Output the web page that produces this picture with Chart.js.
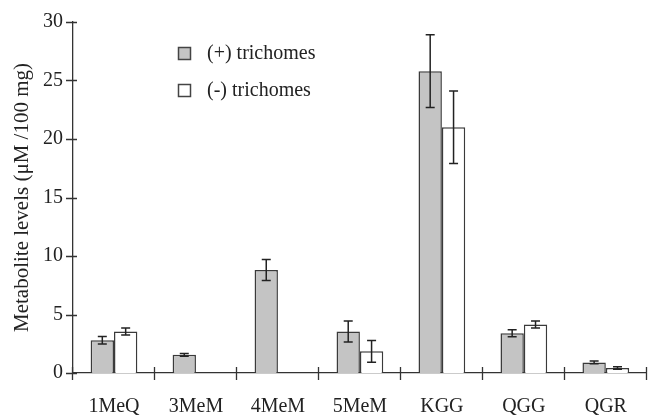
<!DOCTYPE html>
<html>
<head>
<meta charset="utf-8">
<script src="https://cdn.jsdelivr.net/npm/chart.js@4/dist/chart.umd.min.js"></script>
<style>
  html, body { margin: 0; padding: 0; background: #fff; }
  #wrap { width: 649px; height: 416px; position: relative; }
</style>
</head>
<body>
<div id="wrap"><canvas id="c" width="649" height="416"></canvas></div>
<script>
const categories = ['1MeQ', '3MeM', '4MeM', '5MeM', 'KGG', 'QGG', 'QGR'];
const seriesLabels = ['(+) trichomes', '(-) trichomes'];
const plusValues = [2.8, 1.55, 8.8, 3.55, 25.8, 3.4, 0.9];
const plusErrors = [0.33, 0.12, 0.9, 0.9, 3.1, 0.3, 0.12];
const minusValues = [3.55, null, null, 1.85, 21.0, 4.15, 0.43];
const minusErrors = [0.3, null, null, 0.93, 3.1, 0.3, 0.1];
const yTickValues = [0, 5, 10, 15, 20, 25, 30];
const yTitle = 'Metabolite levels (\u03BCM /100 mg)';

const AXIS = '#333333';
const SERIF = '"Liberation Serif", "Times New Roman", serif';

const errorBars = {
  id: 'errorBars',
  afterDatasetsDraw(chart) {
    const ctx = chart.ctx;
    const y = chart.scales.y;
    ctx.save();
    ctx.strokeStyle = '#222';
    ctx.lineWidth = 1.5;
    chart.data.datasets.forEach((ds, di) => {
      const meta = chart.getDatasetMeta(di);
      meta.data.forEach((bar, i) => {
        const v = ds.data[i], e = ds.errors[i];
        if (v == null || e == null) return;
        const x = bar.x;
        const yt = y.getPixelForValue(v + e);
        const yb = y.getPixelForValue(v - e);
        const cap = 4.5;
        ctx.beginPath();
        ctx.moveTo(x, yt); ctx.lineTo(x, yb);
        ctx.moveTo(x - cap, yt); ctx.lineTo(x + cap, yt);
        ctx.moveTo(x - cap, yb); ctx.lineTo(x + cap, yb);
        ctx.stroke();
      });
    });
    ctx.restore();
  }
};

const axisTicks = {
  id: 'axisTicks',
  afterDraw(chart) {
    const ctx = chart.ctx;
    const {x, y} = chart.scales;
    const area = chart.chartArea;
    ctx.save();
    ctx.strokeStyle = AXIS;
    ctx.lineWidth = 1.3;
    ctx.beginPath();
    yTickValues.forEach(v => {
      const py = Math.round(y.getPixelForValue(v)) + 0.5;
      ctx.moveTo(area.left - 7, py); ctx.lineTo(area.left + 4, py);
    });
    const n = categories.length;
    const w = (area.right - area.left) / n;
    for (let i = 0; i <= n; i++) {
      const px = Math.round(area.left + i * w) - 0.5;
      ctx.moveTo(px, area.bottom - 6); ctx.lineTo(px, area.bottom + 7);
    }
    ctx.stroke();

    // legend
    const lx = 178, ly = [47, 84], sz = 13;
    chart.data.datasets.forEach((ds, i) => {
      ctx.fillStyle = ds.backgroundColor;
      ctx.fillRect(lx, ly[i], sz, sz);
      ctx.strokeStyle = '#444';
      ctx.lineWidth = 1.5;
      ctx.strokeRect(lx + 0.5, ly[i] + 0.5, sz - 1, sz - 1);
      ctx.fillStyle = '#222';
      ctx.font = '20px ' + SERIF;
      ctx.textBaseline = 'middle';
      ctx.textAlign = 'left';
      ctx.fillText(ds.label, 207, ly[i] + sz / 2 + 0.5);
    });
    ctx.restore();
  }
};

new Chart(document.getElementById('c'), {
  type: 'bar',
  data: {
    labels: categories,
    datasets: [
      {
        label: seriesLabels[0],
        data: plusValues,
        errors: plusErrors,
        backgroundColor: '#c4c4c4',
        borderColor: '#3a3a3a',
        borderWidth: 1.5,
        categoryPercentage: 0.57,
        barPercentage: 1.0
      },
      {
        label: seriesLabels[1],
        data: minusValues,
        errors: minusErrors,
        backgroundColor: '#ffffff',
        borderColor: '#3a3a3a',
        borderWidth: 1.5,
        categoryPercentage: 0.57,
        barPercentage: 1.0
      }
    ]
  },
  options: {
    responsive: false,
    animation: false,
    devicePixelRatio: 1,
    layout: { padding: { top: 13, right: 1, left: 0, bottom: 0 } },
    plugins: {
      legend: { display: false },
      tooltip: { enabled: false }
    },
    scales: {
      x: {
        grid: { display: false, drawTicks: false },
        border: { display: true, color: AXIS, width: 1.3 },
        ticks: {
          color: '#222',
          font: { family: SERIF, size: 20 },
          padding: 22,
          maxRotation: 0
        },
        afterFit(scale) { scale.height = 43; }
      },
      y: {
        min: 0,
        max: 30,
        afterBuildTicks(scale) { scale.ticks = yTickValues.map(v => ({ value: v })); },
        grid: { display: false, drawTicks: false },
        border: { display: true, color: AXIS, width: 1.3 },
        ticks: {
          color: '#222',
          font: { family: SERIF, size: 20 },
          padding: 10
        },
        title: {
          display: true,
          text: yTitle,
          color: '#222',
          font: { family: SERIF, size: 21 },
          padding: { top: 10, bottom: 0 }
        },
        afterFit(scale) { scale.width = 73; }
      }
    }
  },
  plugins: [errorBars, axisTicks]
});
</script>
</body>
</html>
